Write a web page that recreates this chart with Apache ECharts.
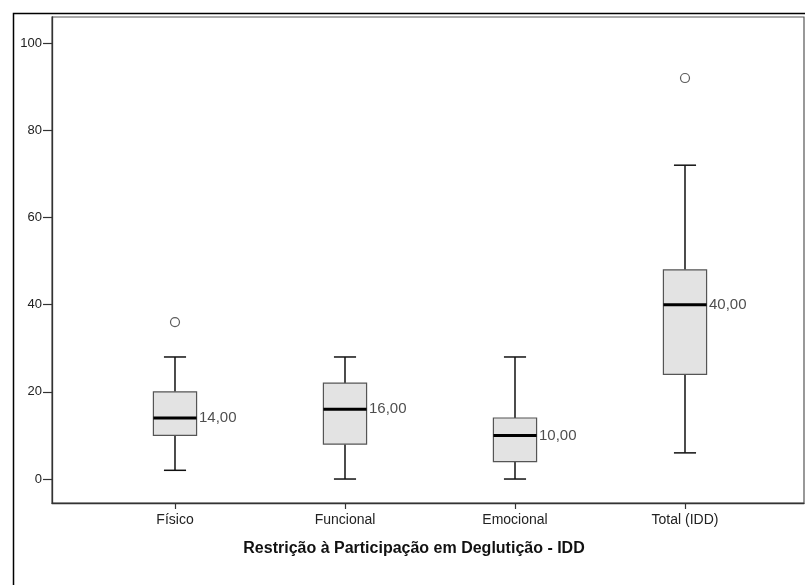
<!DOCTYPE html>
<html><head><meta charset="utf-8">
<script src="https://cdn.jsdelivr.net/npm/echarts@6.0.0/dist/echarts.min.js"></script>
<style>html,body{margin:0;padding:0;background:#fff}#chart{width:805px;height:585px}</style>
</head><body><div id="chart"></div>
<script>
const categories = ['Físico', 'Funcional', 'Emocional', 'Total (IDD)'];
const whiskerLow = [2, 0, 0, 6];
const q1 = [10, 8, 4, 24];
const median = [14, 16, 10, 40];
const q3 = [20, 22, 14, 48];
const whiskerHigh = [28, 28, 28, 72];
const outlierCat = [0, 3];
const outlierVal = [36, 92];
const yTicks = [0, 20, 40, 60, 80, 100];
const xTicks = categories.map((c, i) => i);

const boxData = categories.map((c, i) => [i, whiskerLow[i], q1[i], median[i], q3[i], whiskerHigh[i]]);
const medianData = categories.map((c, i) => [i, median[i]]);
const outlierData = outlierCat.map((c, i) => [c, outlierVal[i]]);

const FONT = '"Liberation Sans", Arial, sans-serif';
const chart = echarts.init(document.getElementById('chart'), null, {renderer: 'canvas'});
chart.setOption({
  animation: false,
  backgroundColor: '#fff',
  graphic: [{
    type: 'rect', left: 11, top: 11, shape: {x: 0, y: 0, width: 820, height: 620},
    style: {fill: 'none', stroke: '#000', lineWidth: 1.5}, silent: true
  }],
  grid: {left: 52, top: 17, right: 1, bottom: 82, show: true, borderColor: '#555', borderWidth: 1.2, backgroundColor: 'transparent'},
  xAxis: {
    type: 'value', min: -0.7235, max: 3.7,
    axisLine: {show: true, onZero: false, lineStyle: {color: '#333', width: 1.3}},
    axisTick: {show: true, customValues: xTicks, length: 6, lineStyle: {color: '#333', width: 1.2}},
    axisLabel: {show: true, customValues: xTicks, formatter: v => categories[Math.round(v)], color: '#222', fontSize: 14, fontFamily: FONT, margin: 10},
    splitLine: {show: false},
    name: 'Restrição à Participação em Deglutição - IDD',
    nameLocation: 'middle', nameGap: 38,
    nameTextStyle: {fontSize: 16, fontWeight: 'bold', color: '#111', fontFamily: FONT, padding: [0, 28, 0, 0]}
  },
  yAxis: {
    type: 'value', min: -5.5, max: 106,
    axisLine: {show: true, onZero: false, lineStyle: {color: '#333', width: 1.3}},
    axisTick: {show: true, customValues: yTicks, length: 9, lineStyle: {color: '#333', width: 1.2}},
    axisLabel: {show: true, customValues: yTicks, color: '#222', fontSize: 13, fontFamily: FONT, margin: 10},
    splitLine: {show: false}
  },
  series: [{
    type: 'custom',
    data: boxData,
    encode: {x: 0, y: [1, 2, 3, 4, 5]},
    renderItem: (params, api) => {
      const x = api.value(0);
      const bw = api.size([1, 0])[0];
      const bh = bw * 0.127, ch = bw * 0.065;
      const p = v => api.coord([x, v]);
      const cx = p(api.value(3))[0];
      const yLo = p(api.value(1))[1], yQ1 = p(api.value(2))[1], yMed = p(api.value(3))[1],
            yQ3 = p(api.value(4))[1], yHi = p(api.value(5))[1];
      const ls = {stroke: '#111', lineWidth: 1.5};
      return {type: 'group', children: [
        {type: 'line', shape: {x1: cx, y1: yHi, x2: cx, y2: yQ3}, style: ls},
        {type: 'line', shape: {x1: cx, y1: yQ1, x2: cx, y2: yLo}, style: ls},
        {type: 'line', shape: {x1: cx - ch, y1: yHi, x2: cx + ch, y2: yHi}, style: ls},
        {type: 'line', shape: {x1: cx - ch, y1: yLo, x2: cx + ch, y2: yLo}, style: ls},
        {type: 'rect', shape: {x: cx - bh, y: yQ3, width: 2 * bh, height: yQ1 - yQ3}, style: {fill: '#e3e3e3', stroke: '#555', lineWidth: 1.2}},
        {type: 'line', shape: {x1: cx - bh, y1: yMed, x2: cx + bh, y2: yMed}, style: {stroke: '#000', lineWidth: 3}}
      ]};
    }
  }, {
    type: 'scatter',
    data: medianData,
    symbolSize: 0.01,
    itemStyle: {color: 'transparent'},
    label: {show: true, position: 'right', distance: 24, formatter: p => p.value[1].toFixed(2).replace('.', ','), color: '#222', fontSize: 15, fontFamily: FONT},
    silent: true
  }, {
    type: 'scatter',
    data: outlierData,
    symbol: 'circle',
    symbolSize: 9,
    itemStyle: {color: '#fff', borderColor: '#333', borderWidth: 1.2},
    silent: true
  }]
});
</script>
</body></html>
